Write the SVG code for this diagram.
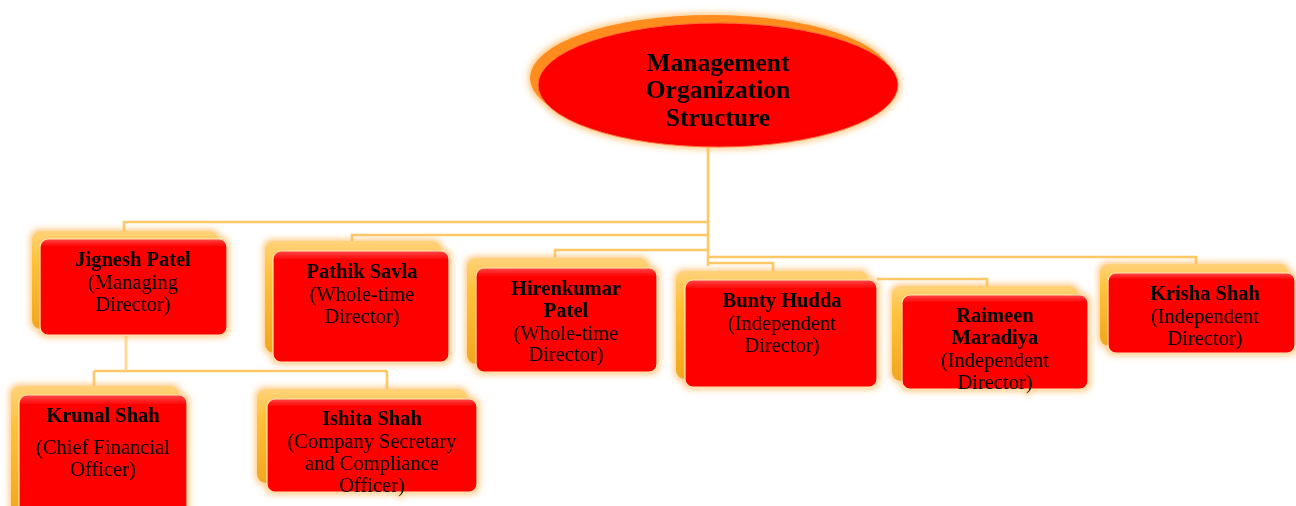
<svg xmlns="http://www.w3.org/2000/svg" width="1296" height="506" viewBox="0 0 1296 506">
<defs>
<linearGradient id="gold" x1="0" y1="0" x2="0" y2="1">
<stop offset="0" stop-color="#FFD27A"/>
<stop offset="0.3" stop-color="#FFC23A"/>
<stop offset="1" stop-color="#F2A61E"/>
</linearGradient>
<linearGradient id="red" x1="0" y1="0" x2="0" y2="1">
<stop offset="0" stop-color="#FF4A4A"/>
<stop offset="0.08" stop-color="#FF0000"/>
<stop offset="1" stop-color="#FF0000"/>
</linearGradient>
<radialGradient id="redE" cx="0.5" cy="0.45" r="0.6">
<stop offset="0.8" stop-color="#FF0000"/>
<stop offset="1" stop-color="#F00000"/>
</radialGradient>
<filter id="halo" x="-20%" y="-20%" width="140%" height="140%">
<feMorphology in="SourceAlpha" operator="dilate" radius="2" result="d"/>
<feGaussianBlur in="d" stdDeviation="3" result="b"/>
<feFlood flood-color="#FFB85C" flood-opacity="0.75"/>
<feComposite in2="b" operator="in" result="g"/>
<feMerge><feMergeNode in="g"/><feMergeNode in="SourceGraphic"/></feMerge>
</filter>
</defs>
<style>
.back{fill:url(#gold);}
.front{fill:url(#red);stroke:#FFE3B0;stroke-width:1.2;}
.conn{fill:none;stroke:#FFC866;stroke-width:2.6;}
.conn2{fill:none;stroke:#FFF3DC;stroke-width:0.8;}
text{font-family:"Liberation Serif","Times New Roman",serif;fill:#000;text-anchor:middle;font-size:20.5px;}
.b{font-weight:bold;}
.t{font-weight:bold;font-size:25.5px;}
</style>

<g id="connectors">
<path class="conn" d="M708 145 V266 M708 222 H124 V232 M708 235 H352 V242 M708 250 H555 V259 M708 257 H1196 V265 M708 263 H773 V271 M877 279 H987 V287 M126 336 V371 M94 371 H387 M94 371 V388 M387 371 V390"/>
<path class="conn2" d="M126 336 V371"/>
</g>

<g id="title" filter="url(#halo)">
<ellipse cx="711" cy="78" rx="181" ry="63" fill="#FF8C1A"/>
<ellipse cx="718" cy="85" rx="180" ry="62" fill="url(#redE)" stroke="#FF6A3A" stroke-width="1"/>
<text class="t" x="718" y="71">Management</text>
<text class="t" x="718" y="98">Organization</text>
<text class="t" x="718" y="126">Structure</text>
</g>

<g id="jignesh" filter="url(#halo)">
<rect class="back" x="32" y="231" width="186" height="98" rx="9"/>
<rect class="front" x="40" y="239" width="187" height="96" rx="8"/>
<text class="b" x="133" y="266">Jignesh Patel</text>
<text x="133" y="289">(Managing</text>
<text x="133" y="311">Director)</text>
</g>

<g id="pathik" filter="url(#halo)">
<rect class="back" x="265" y="241" width="176" height="112" rx="9"/>
<rect class="front" x="273" y="251" width="176" height="111" rx="8"/>
<text class="b" x="362" y="278">Pathik Savla</text>
<text x="362" y="301">(Whole-time</text>
<text x="362" y="323">Director)</text>
</g>

<g id="hirenkumar" filter="url(#halo)">
<rect class="back" x="467" y="258" width="181" height="106" rx="9"/>
<rect class="front" x="476" y="268" width="181" height="104" rx="8"/>
<text class="b" x="566" y="295">Hirenkumar</text>
<text class="b" x="566" y="317">Patel</text>
<text x="566" y="340">(Whole-time</text>
<text x="566" y="361">Director)</text>
</g>

<g id="bunty" filter="url(#halo)">
<rect class="back" x="676" y="271" width="192" height="108" rx="9"/>
<rect class="front" x="685" y="280" width="192" height="107" rx="8"/>
<text class="b" x="782" y="307">Bunty Hudda</text>
<text x="782" y="330">(Independent</text>
<text x="782" y="352">Director)</text>
</g>

<g id="raimeen" filter="url(#halo)">
<rect class="back" x="892" y="286" width="186" height="95" rx="9"/>
<rect class="front" x="902" y="295" width="186" height="94" rx="8"/>
<text class="b" x="995" y="322">Raimeen</text>
<text class="b" x="995" y="344">Maradiya</text>
<text x="995" y="367">(Independent</text>
<text x="995" y="389">Director)</text>
</g>

<g id="krisha" filter="url(#halo)">
<rect class="back" x="1100" y="264" width="188" height="82" rx="9"/>
<rect class="front" x="1108" y="273" width="187" height="80" rx="8"/>
<text class="b" x="1205" y="300">Krisha Shah</text>
<text x="1205" y="323">(Independent</text>
<text x="1205" y="345">Director)</text>
</g>

<g id="krunal" filter="url(#halo)">
<rect class="back" x="11" y="386" width="168" height="130" rx="9"/>
<rect class="front" x="19" y="395" width="168" height="125" rx="8"/>
<text class="b" x="103" y="422">Krunal Shah</text>
<text x="103" y="454">(Chief Financial</text>
<text x="103" y="476">Officer)</text>
</g>

<g id="ishita" filter="url(#halo)">
<rect class="back" x="257" y="389" width="210" height="94" rx="9"/>
<rect class="front" x="267" y="399" width="210" height="93" rx="8"/>
<text class="b" x="372" y="425">Ishita Shah</text>
<text x="372" y="448">(Company Secretary</text>
<text x="372" y="470">and Compliance</text>
<text x="372" y="492">Officer)</text>
</g>
</svg>
